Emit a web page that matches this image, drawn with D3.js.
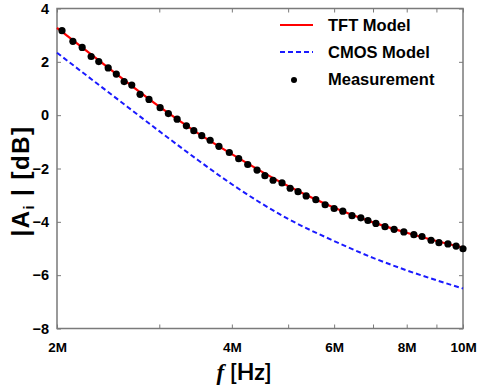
<!DOCTYPE html>
<html>
<head>
<meta charset="utf-8">
<script src="https://cdn.jsdelivr.net/npm/d3@7"></script>
<style>
  body { margin: 0; background: #fff; }
  svg { display: block; }
  .tick text { font-family: "Liberation Sans", Arial, sans-serif; font-weight: bold; fill: #000; }
</style>
</head>
<body>
<svg id="chart" width="482" height="389"></svg>
<script>
// measured points (frequency in MHz, |Ai| in dB)
var measFreq = [2.04, 2.13, 2.21, 2.29, 2.36, 2.45, 2.53, 2.61, 2.69, 2.78, 2.88, 3.01, 3.11, 3.22, 3.34, 3.44,
  3.55, 3.67, 3.80, 3.96, 4.11, 4.26, 4.42, 4.56, 4.71, 4.88, 5.04, 5.20, 5.37, 5.58, 5.79, 6.00,
  6.21, 6.44, 6.67, 6.86, 7.08, 7.34, 7.61, 7.91, 8.23, 8.50, 8.81, 9.09, 9.42, 9.73, 10.00];
var measGain = [3.17, 2.77, 2.54, 2.20, 2.01, 1.77, 1.54, 1.26, 1.13, 0.78, 0.59, 0.28, 0.06, -0.15, -0.40, -0.58,
  -0.77, -0.94, -1.17, -1.40, -1.63, -1.85, -2.06, -2.27, -2.44, -2.54, -2.74, -2.87, -3.03, -3.17, -3.36, -3.50,
  -3.60, -3.77, -3.85, -3.95, -4.06, -4.18, -4.28, -4.38, -4.48, -4.55, -4.69, -4.78, -4.83, -4.91, -5.01];

// model curves
var modelFreq = [2, 2.5, 3, 3.5, 4, 5, 6, 7, 8, 9, 10];
var tftGain = [3.27, 1.63, 0.32, -0.68, -1.46, -2.66, -3.47, -4.02, -4.41, -4.72, -4.97];
var cmosGain = [2.34, 0.72, -0.60, -1.69, -2.59, -3.89, -4.72, -5.35, -5.82, -6.19, -6.50];

var xTicks = [2, 3, 4, 5, 6, 7, 8, 9, 10];
var xLabels = [2, 4, 6, 8, 10];
var yTicks = [-8, -6, -4, -2, 0, 2, 4];

var legendItems = ['TFT Model', 'CMOS Model', 'Measurement'];

var margin = {left: 57, right: 19, top: 8.5, bottom: 60.5},
    width = 482 - margin.left - margin.right,
    height = 389 - margin.top - margin.bottom,
    axisColor = '#7a7a7a';

var svg = d3.select('#chart');
var g = svg.append('g').attr('transform', 'translate(' + margin.left + ',' + margin.top + ')');

var x = d3.scaleLog().domain([2e6, 1e7]).range([0, width]);
var y = d3.scaleLinear().domain([-8, 4]).range([height, 0]);

function styleAxis(sel, fontSize) {
  sel.select('.domain').remove();
  sel.selectAll('.tick line').attr('stroke', axisColor).attr('stroke-width', 1);
  sel.selectAll('.tick text').style('font-size', fontSize + 'px');
}

// bottom and top axes, inward ticks
g.append('g')
  .attr('transform', 'translate(0,' + height + ')')
  .call(d3.axisBottom(x)
    .tickValues(xTicks.map(function (d) { return d * 1e6; }))
    .tickSizeInner(-4).tickSizeOuter(0).tickPadding(14)
    .tickFormat(function (d) { return xLabels.indexOf(d / 1e6) >= 0 ? (d / 1e6) + 'M' : ''; }))
  .call(styleAxis, 13.5);

g.append('g')
  .call(d3.axisTop(x)
    .tickValues(xTicks.map(function (d) { return d * 1e6; }))
    .tickSizeInner(-4).tickSizeOuter(0).tickFormat(''))
  .call(styleAxis, 13);

g.append('g')
  .call(d3.axisLeft(y).tickValues(yTicks).tickSizeInner(-4).tickSizeOuter(0).tickPadding(8))
  .call(styleAxis, 14.5);

g.append('g')
  .attr('transform', 'translate(' + width + ',0)')
  .call(d3.axisRight(y).tickValues(yTicks).tickSizeInner(-4).tickSizeOuter(0).tickFormat(''))
  .call(styleAxis, 14);

// frame
g.append('rect')
  .attr('width', width).attr('height', height)
  .attr('fill', 'none').attr('stroke', axisColor).attr('stroke-width', 1.5);

var line = d3.line()
  .x(function (d) { return x(d[0] * 1e6); })
  .y(function (d) { return y(d[1]); })
  .curve(d3.curveMonotoneX);

g.append('path')
  .datum(d3.zip(modelFreq, cmosGain))
  .attr('d', line)
  .attr('fill', 'none').attr('stroke', '#1a1aff').attr('stroke-width', 2)
  .attr('stroke-dasharray', '5,3');

g.append('path')
  .datum(d3.zip(modelFreq, tftGain))
  .attr('d', line)
  .attr('fill', 'none').attr('stroke', '#ff0000').attr('stroke-width', 2.2);

g.selectAll('circle.meas')
  .data(d3.zip(measFreq, measGain)).enter()
  .append('circle')
  .attr('class', 'meas')
  .attr('cx', function (d) { return x(d[0] * 1e6); })
  .attr('cy', function (d) { return y(d[1]); })
  .attr('r', 3.6)
  .attr('fill', '#000');

// legend
var legend = svg.append('g').attr('transform', 'translate(280,25)');
var row = legend.selectAll('g')
  .data(legendItems).enter()
  .append('g')
  .attr('transform', function (d, i) { return 'translate(0,' + (i * 27) + ')'; });

row.each(function (d, i) {
  var r = d3.select(this);
  if (i === 0) {
    r.append('line').attr('x1', 0).attr('x2', 33).attr('y1', 0).attr('y2', 0)
      .attr('stroke', '#ff0000').attr('stroke-width', 2);
  } else if (i === 1) {
    r.append('line').attr('x1', 0).attr('x2', 33).attr('y1', 0).attr('y2', 0)
      .attr('stroke', '#1a1aff').attr('stroke-width', 2).attr('stroke-dasharray', '5,3');
  } else {
    r.append('circle').attr('cx', 14).attr('cy', 1).attr('r', 3).attr('fill', '#000');
  }
});

row.append('text')
  .attr('x', 48)
  .attr('y', 6)
  .style('font-family', '"Liberation Sans", Arial, sans-serif')
  .style('font-weight', 'bold')
  .style('font-size', '16.5px')
  .text(function (d) { return d; });

// axis titles
var xTitle = svg.append('text')
  .attr('x', 244)
  .attr('y', 380)
  .attr('text-anchor', 'middle')
  .style('font-weight', 'bold')
  .style('font-size', '23px');
xTitle.append('tspan')
  .style('font-family', '"Liberation Serif", serif')
  .style('font-style', 'italic')
  .text('f');
xTitle.append('tspan')
  .style('font-family', 'Lato, "Open Sans", sans-serif')
  .text(' [Hz]');

var yTitle = svg.append('text')
  .attr('transform', 'translate(29,181) rotate(-90)')
  .attr('text-anchor', 'middle')
  .style('font-family', '"Liberation Sans", Arial, sans-serif')
  .style('font-weight', 'bold')
  .style('font-size', '24px')
  .style('letter-spacing', '1.5px');
yTitle.append('tspan').text('|A');
yTitle.append('tspan').attr('dy', 5).style('font-size', '14px').text('i');
yTitle.append('tspan').attr('dy', -5).text(' | [dB]');
</script>
</body>
</html>
